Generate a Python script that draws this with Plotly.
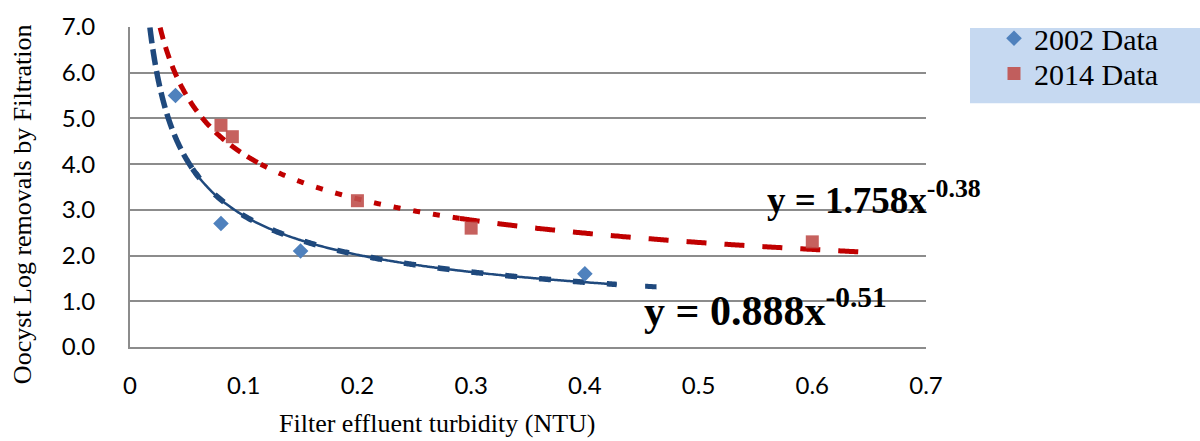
import numpy as np
import plotly.graph_objects as go

# Measured data
x_2002 = [0.04, 0.08, 0.15, 0.40]
y_2002 = [5.5, 2.7, 2.1, 1.6]
x_2014 = [0.08, 0.09, 0.20, 0.30, 0.60]
y_2014 = [4.85, 4.6, 3.2, 2.6, 2.3]

# Power-law fits y = a * x^b
fit_2002 = {"a": 0.888, "b": -0.51}
fit_2014 = {"a": 1.758, "b": -0.38}

x_ticks = [0, 0.1, 0.2, 0.3, 0.4, 0.5, 0.6, 0.7]
y_ticks = [0, 1, 2, 3, 4, 5, 6, 7]

BLUE_LINE = "#1F497D"
RED_LINE = "#C00000"
GRID = "#8C8C8C"

# plot area in pixels (for placing free text)
L, R, T, B = 130, 926, 20, 347


def px(xp):
    return (xp - L) / (R - L)


def py(yp):
    return (B - yp) / (B - T)


fig = go.Figure()


def trend_segment(fit, x0, x1, color, width, dash):
    xs = np.linspace(x0, x1, 200)
    ys = fit["a"] * xs ** fit["b"]
    fig.add_trace(go.Scatter(
        x=xs, y=ys, mode="lines", showlegend=False, hoverinfo="skip",
        line=dict(color=color, width=width, dash=dash, shape="spline"),
    ))


# 2002 trend line
trend_segment(fit_2002, 0.0175, 0.06, BLUE_LINE, 5.5, "16px,6px")
trend_segment(fit_2002, 0.055, 0.428, BLUE_LINE, 2.5, "solid")
trend_segment(fit_2002, 0.055, 0.428, BLUE_LINE, 5.5, "12px,22px")
trend_segment(fit_2002, 0.453, 0.463, BLUE_LINE, 5, "solid")

# 2014 trend line
trend_segment(fit_2014, 0.0265, 0.115, RED_LINE, 5, "12px,8px")
trend_segment(fit_2014, 0.115, 0.29, RED_LINE, 5, "7px,13px")
trend_segment(fit_2014, 0.29, 0.653, RED_LINE, 5, "20px,18px")

fig.add_trace(go.Scatter(
    x=x_2002, y=y_2002, mode="markers", name="2002 Data", legend="legend",
    marker=dict(symbol="diamond", size=12, color="#4F81BD"),
))
fig.add_trace(go.Scatter(
    x=x_2014, y=y_2014, mode="markers", name="2014 Data", legend="legend2",
    marker=dict(symbol="square", size=13, color="#C0504D", opacity=0.9),
))

# legend background panel
fig.add_shape(type="rect", xref="paper", yref="paper",
              x0=px(970), x1=px(1200), y0=py(98), y1=py(21),
              fillcolor="#C6D9F1", line=dict(width=0), layer="below")

serif = "Liberation Serif, Times New Roman, serif"

fig.add_annotation(xref="paper", yref="paper", x=px(765), y=py(194),
                   xanchor="left", yanchor="middle", showarrow=False,
                   text="<b>y = 1.758x<sup>-0.38</sup></b>",
                   font=dict(family=serif, size=37, color="black"))
fig.add_annotation(xref="paper", yref="paper", x=px(642), y=py(307),
                   xanchor="left", yanchor="middle", showarrow=False,
                   text="<b>y = 0.888x<sup>-0.51</sup></b>",
                   font=dict(family=serif, size=42, color="black"))

fig.add_annotation(xref="paper", yref="paper", x=px(437), y=py(425),
                   xanchor="center", yanchor="middle", showarrow=False,
                   text="Filter effluent turbidity (NTU)",
                   font=dict(family=serif, size=26, color="black"))
fig.add_annotation(xref="paper", yref="paper", x=px(22), y=py(201),
                   xanchor="center", yanchor="middle", showarrow=False,
                   textangle=-90,
                   text="Oocyst Log removals by Filtration",
                   font=dict(family=serif, size=26, color="black"))

legend_style = dict(xanchor="left", yanchor="top",
                    bgcolor="rgba(0,0,0,0)", borderwidth=0,
                    font=dict(family=serif, size=30, color="black"),
                    itemwidth=30)

fig.update_layout(
    width=1200, height=441,
    margin=dict(l=L, r=1200 - R, t=T, b=441 - B),
    paper_bgcolor="white", plot_bgcolor="white",
    showlegend=True,
    legend=dict(x=px(994), y=py(5), **legend_style),
    legend2=dict(x=px(994), y=py(41), **legend_style),
    xaxis=dict(range=[0, 0.7], tickvals=x_ticks,
               ticktext=[f"{v:g}" for v in x_ticks],
               showgrid=False, zeroline=False,
               showline=True, linecolor=GRID, linewidth=2,
               ticks="", ticklabelstandoff=16,
               tickfont=dict(family="Lato, sans-serif", size=24, color="black")),
    yaxis=dict(range=[0, 7], tickvals=y_ticks,
               ticktext=[f"{v:.1f}" for v in y_ticks],
               showgrid=True, gridcolor=GRID, gridwidth=2, zeroline=False,
               showline=True, linecolor=GRID, linewidth=2,
               ticks="", ticklabelstandoff=28,
               tickfont=dict(family="Lato, sans-serif", size=24, color="black")),
)

fig.write_html("out.html")
